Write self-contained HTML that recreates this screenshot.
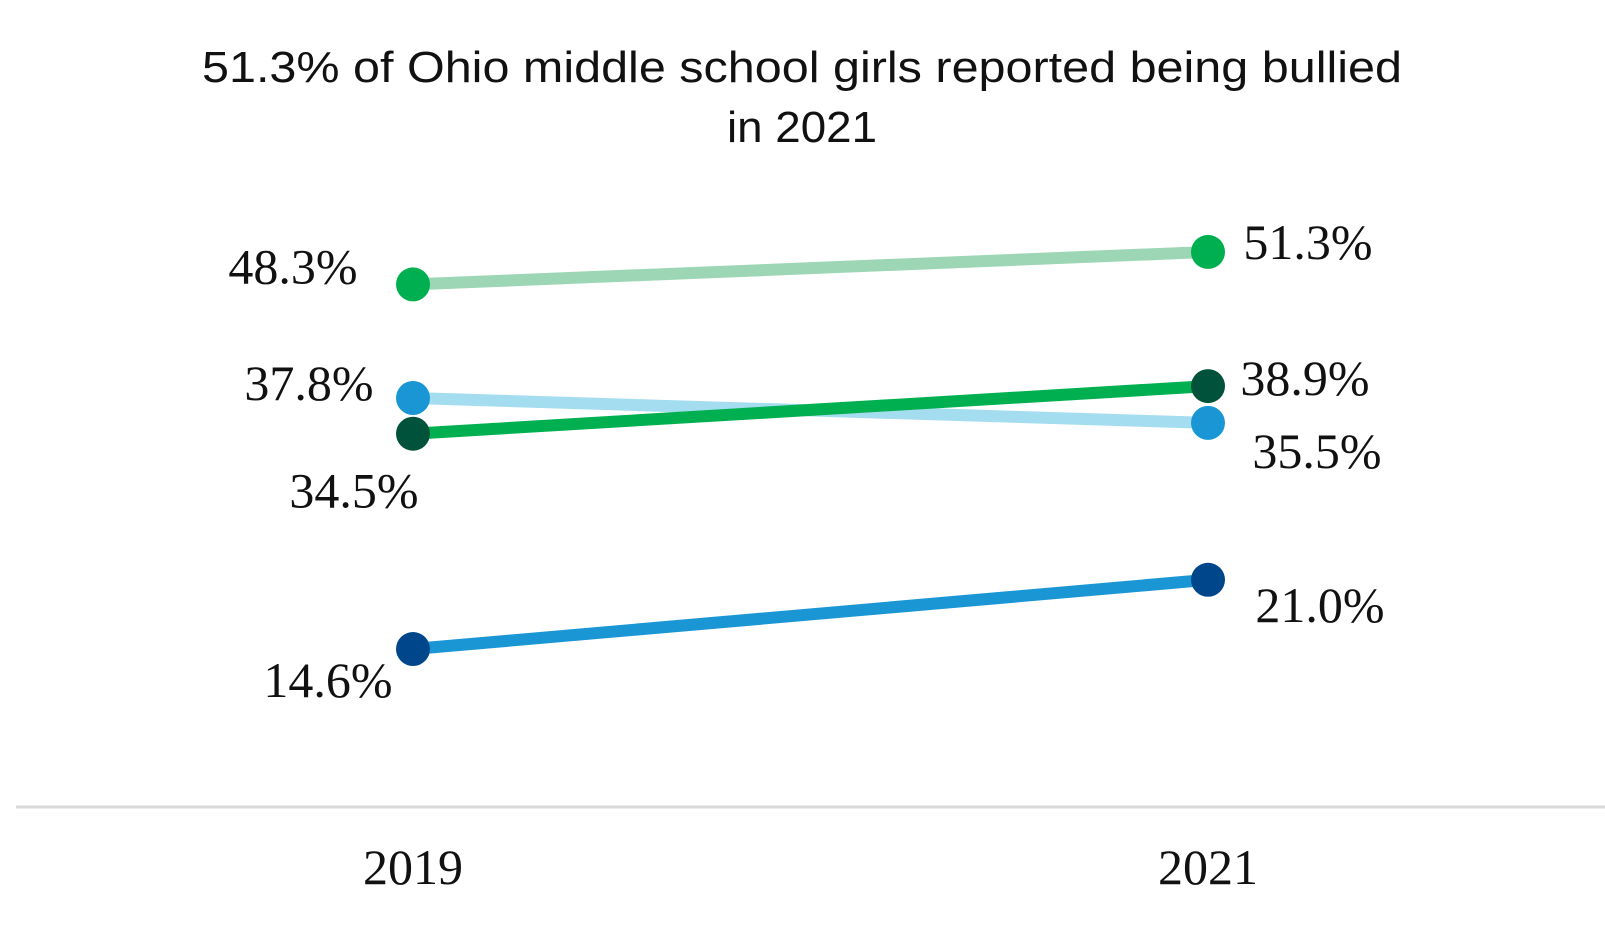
<!DOCTYPE html>
<html><head><meta charset="utf-8"><style>
html,body{margin:0;padding:0;background:#fff;}
svg{display:block;}
</style></head><body>
<svg id="chart" width="1605" height="927" viewBox="0 0 1605 927" xmlns="http://www.w3.org/2000/svg">
<text x="802" y="82" text-anchor="middle" font-family="Liberation Sans, sans-serif" font-size="44" fill="#111" textLength="1200" lengthAdjust="spacingAndGlyphs">51.3% of Ohio middle school girls reported being bullied</text>
<text x="802" y="142" text-anchor="middle" font-family="Liberation Sans, sans-serif" font-size="44" fill="#111" textLength="150" lengthAdjust="spacingAndGlyphs">in 2021</text>
<line x1="16" y1="807" x2="1605" y2="807" stroke="#d9d9d9" stroke-width="3"/>
<g id="marks"></g>
</svg>
<script>
const categories = ["2019", "2021"];
const seriesA = [48.3, 51.3];
const seriesB = [37.8, 35.5];
const seriesC = [34.5, 38.9];
const seriesD = [14.6, 21.0];
const seriesList = [seriesA, seriesB, seriesC, seriesD];
const seriesNames = ["series-a", "series-b", "series-c", "series-d"];
const lineColors = ["#9dd6b5", "#a4dcf0", "#00b050", "#1a96d4"];
const dotColors = ["#00b050", "#1a96d4", "#00533a", "#00468b"];
// label offsets [dx, dy] relative to point, per series per year
const labelOffsets = [[[-120,-16],[100,-8]],[[-104,-13],[109,30]],[[-59,59],[97,-6]],[[-85,33],[112,27]]];

const svgNS = "http://www.w3.org/2000/svg";
const g = document.getElementById("marks");
const xPos = i => 413 + i * 795;
const yPos = v => 807 - v * 10.82;

seriesList.forEach((s, si) => {
  const ln = document.createElementNS(svgNS, "line");
  
  
  ln.setAttribute("x1", xPos(0)); ln.setAttribute("y1", yPos(s[0]));
  ln.setAttribute("x2", xPos(1)); ln.setAttribute("y2", yPos(s[1]));
  ln.setAttribute("stroke", lineColors[si]); ln.setAttribute("stroke-width", "12");
  g.appendChild(ln);
});
seriesList.forEach((s, si) => {
  s.forEach((v, i) => {
    const c = document.createElementNS(svgNS, "circle");
    
    
    c.setAttribute("cx", xPos(i)); c.setAttribute("cy", yPos(v)); c.setAttribute("r", "17");
    c.setAttribute("fill", dotColors[si]);
    g.appendChild(c);
    const t = document.createElementNS(svgNS, "text");
    
    
    t.setAttribute("x", xPos(i) + labelOffsets[si][i][0]);
    t.setAttribute("y", yPos(v) + labelOffsets[si][i][1] + 15);
    t.setAttribute("text-anchor", "middle");
    t.setAttribute("font-family", "Liberation Serif, serif");
    t.setAttribute("font-size", "50");
    t.setAttribute("fill", "#111");
    t.textContent = v.toFixed(1) + "%";
    g.appendChild(t);
  });
});
categories.forEach((c, i) => {
  const t = document.createElementNS(svgNS, "text");
  
  
  t.setAttribute("x", xPos(i)); t.setAttribute("y", 884);
  t.setAttribute("text-anchor", "middle");
  t.setAttribute("font-family", "Liberation Serif, serif");
  t.setAttribute("font-size", "50");
  t.setAttribute("fill", "#111");
  t.textContent = c;
  g.appendChild(t);
});
</script>
</body></html>
